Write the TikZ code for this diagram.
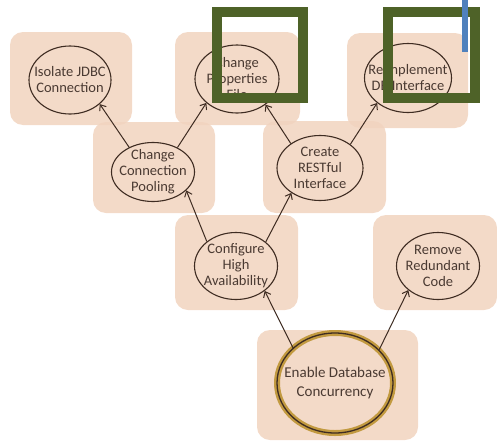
\documentclass[tikz,border=0pt]{standalone}
\usepackage{fontspec}
\setmainfont{Carlito}
\usetikzlibrary{arrows.meta,shapes.geometric}
\definecolor{peach}{HTML}{F1D3BE}
\definecolor{inkbrown}{HTML}{3E2C22}
\definecolor{textbrown}{HTML}{4A3A32}
\definecolor{olive}{HTML}{4E6228}
\definecolor{goldring}{HTML}{C29A40}
\definecolor{marker}{HTML}{4F81BD}
\begin{document}
\begin{tikzpicture}[x=1pt,y=-1pt,
  tile/.style={rectangle, rounded corners=13pt, fill=peach, fill opacity=0.85, draw=none},
  bubble/.style={ellipse, draw=inkbrown, line width=1.1pt, inner sep=0pt},
  caption/.style={align=center, text=textbrown, inner sep=0pt,
    font=\fontsize{14.5}{16}\selectfont},
  link/.style={draw=inkbrown, line width=1pt, -{Straight Barb[length=5pt,width=8pt]}},
  frame/.style={draw=olive, line width=10pt}]
\useasboundingbox (0,0) rectangle (497,447);
% shaded tiles
\node [tile, minimum width=122pt, minimum height=93pt] (isolatebox) at (71,78.5) {};
\node [tile, minimum width=125pt, minimum height=93pt] (propsbox) at (237.5,78.5) {};
\node [tile, minimum width=121pt, minimum height=95pt] (reimplbox) at (407.5,80.5) {};
\node [tile, minimum width=122pt, minimum height=91pt] (poolbox) at (154,167.5) {};
\node [tile, minimum width=123pt, minimum height=92pt] (restbox) at (324.5,167) {};
\node [tile, minimum width=123pt, minimum height=95pt] (availbox) at (236.5,262.5) {};
\node [tile, minimum width=124pt, minimum height=95pt] (redundbox) at (435,262.5) {};
\node [tile, minimum width=161pt, minimum height=110pt] (concurbox) at (337.5,385) {};
% tasks
\node [bubble, minimum width=82pt, minimum height=68pt,
  label={[caption]center:Isolate JDBC\\Connection}] (isolate) at (70,80) {};
\node [bubble, minimum width=84pt, minimum height=68pt,
  label={[caption]center:Change\\Properties\\File}] (props) at (237,79) {};
\node [bubble, minimum width=87pt, minimum height=69pt,
  label={[caption]center:Reimplement\\DB Interface}] (reimpl) at (408,78) {};
\node [bubble, minimum width=83pt, minimum height=59pt,
  label={[caption]center:Change\\Connection\\Pooling}] (pool) at (153,172) {};
\node [bubble, minimum width=86pt, minimum height=65pt,
  label={[caption]center:Create\\RESTful\\Interface}] (rest) at (320,168) {};
\node [bubble, minimum width=83pt, minimum height=67pt,
  label={[caption]center:Configure\\High\\Availability}] (avail) at (236,266) {};
\node [bubble, minimum width=83pt, minimum height=67pt,
  label={[caption]center:Remove\\Redundant\\Code}] (redund) at (438,266) {};
\node [bubble, draw=goldring, line width=6pt, minimum width=116pt, minimum height=100pt] (concurglow) at (335,383) {};
\node [bubble, line width=1.3pt, minimum width=116pt, minimum height=100pt,
  label={[caption, font=\fontsize{15}{19}\selectfont]center:Enable Database\\Concurrency}] (concur) at (335,383) {};
% dependencies
\draw [link] (pool.134) -- (isolate.321);
\draw [link] (pool.45) -- (props.218);
\draw [link] (rest.140) -- (props.318);
\draw [link] (rest.38) -- (reimpl.219);
\draw [link] (avail.140) -- (pool.331);
\draw [link] (avail.39) -- (rest.221);
\draw [link] (concur.140) -- (avail.319);
\draw [link] (concur.37) -- (redund.219);
% highlight frames
\draw [frame] (217,12) rectangle (303,98);
\draw [frame] (388,12) rectangle (475,98);
\draw [marker, line width=6pt] (465,0) -- (465,52);
\end{tikzpicture}
\end{document}
